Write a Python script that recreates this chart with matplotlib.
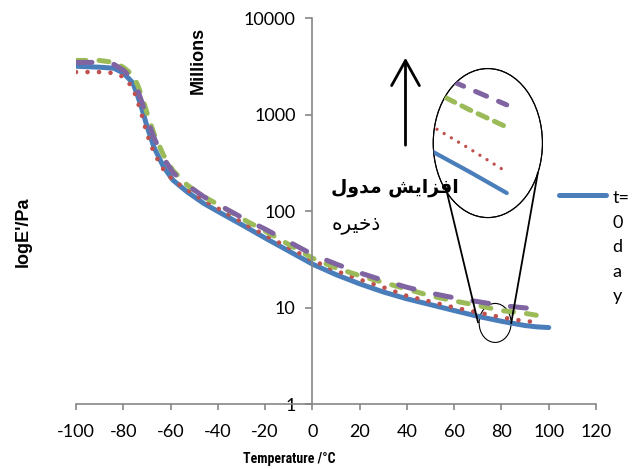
import matplotlib
matplotlib.use('Agg')
import matplotlib.pyplot as plt
import numpy as np
from matplotlib.patches import Ellipse
from matplotlib.ticker import NullLocator
from matplotlib.legend_handler import HandlerLine2D

# temperature (deg C) and storage modulus E' (millions of Pa)
temperature = [-100, -90, -84, -80, -76, -74, -72, -70, -67, -63, -59, -53, -46, -38,
               -28, -20, -10, 0, 10, 20, 30, 40, 50, 60, 70, 80, 90, 95, 100]
modulus_blue = [3162, 3090, 3020, 2692, 2138, 1585, 1122, 759, 457, 288, 209, 158, 120, 93,
                68, 52.5, 38.5, 28.2, 21.9, 17.6, 14.5, 12.3, 10.7, 9.3, 8.1, 7.2, 6.5, 6.3, 6.2]
modulus_red = [2754, 2754, 2692, 2455, 1905, 1380, 955, 631, 398, 269, 209, 166, 129, 100,
               72, 56, 41.7, 30.9, 24.0, 19.5, 16.2, 13.2, 11.5, 10.0, 8.9, 7.9, 7.2, 7.1, np.nan]
modulus_green = [3631, 3631, 3467, 3090, 2570, 2042, 1514, 1047, 631, 380, 263, 186, 141, 110,
                 79, 62, 45, 32.5, 25.7, 21.4, 18.2, 15.5, 13.2, 11.7, 10.5, 9.3, 8.7, 8.3, 8.1]
modulus_purple = [3467, 3467, 3311, 2884, 2344, 1820, 1318, 912, 575, 355, 251, 186, 141, 110,
                  81, 65, 48, 35.5, 28.2, 22.9, 19.1, 16.2, 14.1, 12.6, 11.5, 10.5, 9.9, 9.7, np.nan]
legend_label = 't=\n0\nd\na\ny'

# magnified view drawn inside the big ellipse
zoom_temp = [74.0, 79.0, 83.6]
zoom_blue = [7.66, 6.93, 6.23]
zoom_red = [8.50, 7.70, 6.93]
zoom_green = [9.68, 9.00, 8.43]
zoom_purple = [10.29, 9.70, 9.17]

x_ticks = [-100, -80, -60, -40, -20, 0, 20, 40, 60, 80, 100, 120]
y_ticks = [1, 10, 100, 1000, 10000]
y_tick_labels = ['1', '10', '100', '1000', '10000']

blue = '#4A7EBB'
red = '#C0504D'
green = '#9BBB59'
purple = '#8064A2'
grey = '#868686'


class FirstLineHandler(HandlerLine2D):
    # put the legend key level with the first line of a wrapped label
    def __init__(self, shift, **kw):
        super().__init__(**kw)
        self.shift = shift

    def create_artists(self, legend, orig_handle, xdescent, ydescent, width, height,
                       fontsize, trans):
        artists = super().create_artists(legend, orig_handle, xdescent, ydescent,
                                         width, height, fontsize, trans)
        for a in artists:
            a.set_ydata(np.asarray(a.get_ydata()) + self.shift)
        return artists


fig = plt.figure(figsize=(6.38, 4.69), dpi=100)
ax = fig.add_axes([76 / 638, 65 / 469, 520 / 638, 386 / 469])

line_blue, = ax.plot(temperature, modulus_blue, color=blue, lw=3.6,
                     solid_capstyle='round', label=legend_label)
ax.plot(temperature, modulus_red, color=red, lw=3.3,
        linestyle=(0, (0.01, 2.5)), dash_capstyle='round')
ax.plot(temperature, modulus_green, color=green, lw=3.6,
        linestyle=(0, (2.0, 2.6)), dash_capstyle='round')
ax.plot(temperature, modulus_purple, color=purple, lw=3.6,
        linestyle=(0, (3.2, 4.4)), dash_capstyle='round')

ax.set_yscale('log')
ax.set_xlim(-100, 120)
ax.set_ylim(1, 10000)
ax.set_xticks(x_ticks)
ax.set_xticklabels([str(t) for t in x_ticks])
ax.set_yticks(y_ticks)
ax.set_yticklabels(y_tick_labels)
ax.yaxis.set_minor_locator(NullLocator())

for side in ['top', 'right']:
    ax.spines[side].set_visible(False)
ax.spines['left'].set_position(('data', 0))
for side in ['left', 'bottom']:
    ax.spines[side].set_color(grey)
    ax.spines[side].set_linewidth(1.2)
ax.tick_params(axis='x', length=4.5, width=1.2, color=grey, pad=10)
ax.tick_params(axis='y', length=5, width=1.2, color=grey, pad=7)
for lab in ax.get_xticklabels() + ax.get_yticklabels():
    lab.set_family('Lato')
    lab.set_fontsize(13)

# legend (only the first series is shown, label wrapped)
leg = ax.legend(handles=[line_blue], loc='upper left', frameon=False,
                bbox_to_anchor=(543 / 638, 1 - 174 / 469), bbox_transform=fig.transFigure,
                prop={'family': 'Lato', 'size': 13}, handlelength=2.6, handletextpad=0.35,
                handler_map={line_blue: FirstLineHandler(37.5)})
for txt in leg.get_texts():
    txt.set_linespacing(1.65)

# axis labels
fig.text(23 / 638, 1 - 232 / 469, "logE'/Pa", rotation=90, ha='center', va='center',
         fontsize=13, fontweight='bold', family='Liberation Sans')
fig.text(198 / 638, 1 - 60 / 469, 'Millions', rotation=90, ha='center', va='center',
         fontsize=13, fontweight='bold', family='Liberation Sans')
fig.text(289 / 638, 1 - 459 / 469, 'Temperature /°C', ha='center', va='center',
         fontsize=10, fontweight='bold',
         family=['Liberation Sans Narrow', 'DejaVu Sans Condensed', 'Roboto Condensed', 'DejaVu Sans'])

# arrow + persian note ("افزایش مدول ذخیره", shaped glyphs in visual order)
ax.annotate('', xy=(39.4, 4140), xytext=(39.4, 450),
            arrowprops=dict(arrowstyle='->,head_length=0.9,head_width=0.5',
                            lw=2, color='black', mutation_scale=20))
ax.text(8, 175, '\uFEDD\uFEED\uFEAA\uFEE3 \uFEB6\uFEF3\uFE8D\uFEB0\uFED3\uFE8D',
        ha='left', va='center', fontsize=13.5, fontweight='bold', family='DejaVu Sans',
        zorder=9)
ax.text(8, 72, '\uFEE9\uFEAE\uFEF4\uFEA7\uFEAB',
        ha='left', va='center', fontsize=14.5, family='DejaVu Sans', zorder=9)

# magnifier: small ellipse on the curves, big ellipse with zoomed lines
small = Ellipse((0.806, 0.210), 0.0615, 0.101, transform=ax.transAxes,
                fill=False, ec='black', lw=0.8)
big = Ellipse((0.792, 0.676), 0.210, 0.386, transform=ax.transAxes,
              fc='white', ec='black', lw=0.8, zorder=5)
ax.add_patch(small)
ax.add_patch(big)
ax.plot([0.710, 0.773], [0.567, 0.212], transform=ax.transAxes, color='black', lw=1.3, zorder=6)
ax.plot([0.888, 0.837], [0.598, 0.210], transform=ax.transAxes, color='black', lw=1.3, zorder=6)

axz = fig.add_axes([433 / 638, 1 - 217 / 469, 109 / 638, 149 / 469])
axz.set_xlim(74.4, 88.0)
axz.set_ylim(5.43, 10.4)
axz.axis('off')
axz.patch.set_alpha(0)
zoom_lines = []
zoom_lines += axz.plot(zoom_temp, zoom_blue, color=blue, lw=3.0, solid_capstyle='round')
zoom_lines += axz.plot(zoom_temp, zoom_red, color=red, lw=2.4,
                       linestyle=(0, (0.01, 2.5)), dash_capstyle='round')
zoom_lines += axz.plot(zoom_temp, zoom_green, color=green, lw=3.6,
                       linestyle=(0, (2.0, 1.6)), dash_capstyle='round')
zoom_lines += axz.plot(zoom_temp, zoom_purple, color=purple, lw=3.6,
                       linestyle=(0, (2.4, 2.6)), dash_capstyle='round')
for ln in zoom_lines:
    ln.set_clip_path(big)
# outline again on top of the zoomed lines
ax.add_patch(Ellipse((0.792, 0.676), 0.210, 0.386, transform=ax.transAxes,
                     fill=False, ec='black', lw=0.8, zorder=7))

fig.savefig('out.png', dpi=100)
